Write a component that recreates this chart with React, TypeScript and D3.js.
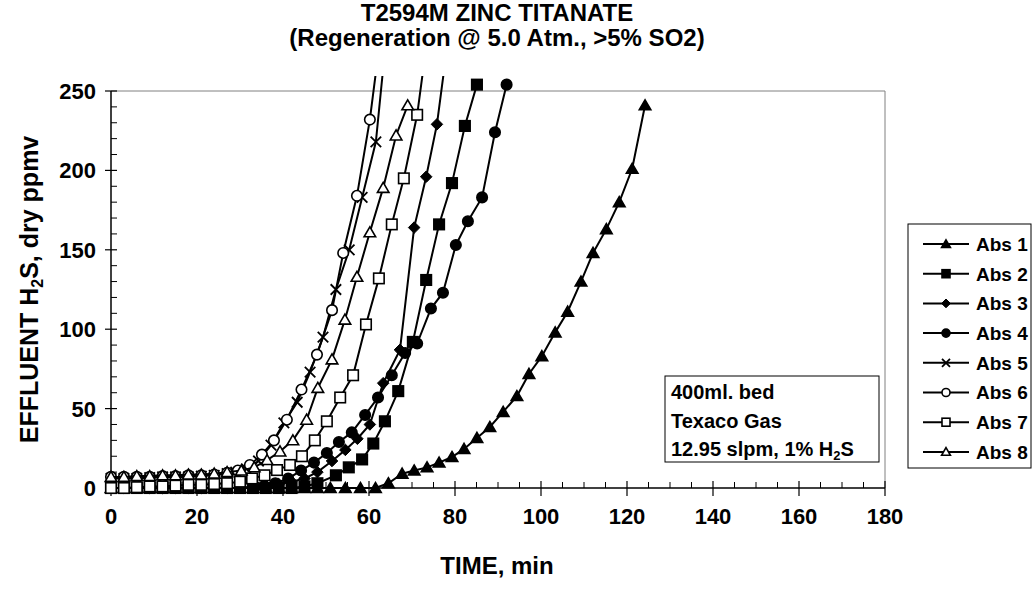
import React from "react";
import * as d3 from "d3";

const W = 1034;
const H = 590;
const FONT = "'Liberation Sans', Arial, sans-serif";

const xTicks = [0, 20, 40, 60, 80, 100, 120, 140, 160, 180];
const yTicks = [0, 50, 100, 150, 200, 250];
const seriesNames = ["Abs 1", "Abs 2", "Abs 3", "Abs 4", "Abs 5", "Abs 6", "Abs 7", "Abs 8"];
const markerTypes = ["triF", "sqF", "diaF", "cirF", "cross", "cirO", "sqO", "triO"];

const t1 = [0, 3, 6, 9, 12, 15, 18, 21, 24, 27, 30, 33, 36, 39, 42, 45, 48, 51, 54.5, 58, 61.5, 64.5, 67.7, 70.5, 73.5, 76.3, 79.3, 82.1, 85.1, 88.1, 91.2, 94.4, 97.2, 100.2, 103.3, 106.2, 109.3, 112.1, 115.2, 118.2, 121.2, 124.2];
const v1 = [0, 0, 0, 0, 0, 0, 0, 0, 0, 0, 0, 0, 0, 0, 0, 0, 0, 0, 0, 0, 0, 3, 9, 11, 13, 16, 19.5, 24.6, 31.5, 38.4, 47.9, 57.9, 71.8, 83, 98, 111, 130, 148, 163, 180, 201, 241];

const t2 = [0, 3, 6, 9, 12, 15, 18, 21, 24, 27, 30, 33, 36, 39, 42, 45, 48, 52.3, 55.3, 58.4, 61, 63.7, 66.8, 70.2, 73.3, 76.3, 79.3, 82.3, 85.1];
const v2 = [0, 0, 0, 0, 0, 0, 0, 0, 0, 0, 0, 0, 0, 0, 0, 1, 3, 8, 13, 18, 28, 42, 61, 92, 131, 166, 192, 228, 254];

const t3 = [0, 3, 6, 9, 12, 15, 18, 21, 24, 27, 30, 33, 36, 39, 42, 45, 48, 51.4, 54.5, 57.3, 60.2, 63.3, 67.2, 70.5, 73.3, 75.8, 79];
const v3 = [0, 0, 0, 0, 0, 0, 0, 0, 0, 0, 0, 1, 1.5, 2.5, 4, 6, 10, 17, 24, 31, 40, 66, 87, 164, 196, 229, 295];

const t4 = [0, 3, 6, 9, 12, 15, 18, 21, 24, 27, 30, 33, 35.5, 38.2, 41.2, 44.2, 47.2, 50.2, 53, 56, 59.1, 62.1, 65.3, 68.4, 71.2, 74.4, 77.2, 80.2, 83, 86.3, 89.3, 92];
const v4 = [0, 0, 0, 0, 0, 0, 0, 0, 0, 0, 0, 0, 1, 3, 6, 11, 16, 22, 29, 35, 46, 57, 71, 85, 91, 113, 123, 153, 168, 183, 224, 254];

const t5 = [0, 3, 6, 9, 12, 15, 18, 21, 24, 27, 29, 31.5, 34.3, 37.2, 40.2, 43.3, 46.3, 49.3, 52.3, 55.4, 58.4, 61.6, 64.6];
const v5 = [6, 6, 6, 6.5, 7, 7, 7, 7.5, 8, 9, 10, 12, 17, 27, 41, 54, 73, 95, 125, 150, 183, 218, 300];

const t6 = [0, 3, 6, 9, 12, 15, 18, 21, 24, 27, 29.5, 32.3, 35.1, 37.9, 40.9, 44.3, 47.9, 51.4, 54, 57.2, 60.2, 63.4];
const v6 = [7, 7, 7, 7, 7.5, 7.5, 8, 8, 8.5, 9.5, 11, 14.5, 21, 30, 43, 62, 84, 112, 148, 184, 232, 300];

const t7 = [0, 3, 6, 9, 12, 15, 18, 21, 24, 27, 30, 32.8, 35.7, 38.6, 41.6, 44.4, 47.4, 50.2, 53.3, 56.3, 59.3, 62.3, 65.3, 68.1, 71.2, 74.4];
const v7 = [0, 0, 0.5, 1, 1, 1.5, 2, 2, 2.5, 3, 4, 6, 8, 11.3, 14.5, 20, 30, 42, 57, 71, 103, 132, 166, 195, 235, 300];

const t8 = [0, 3, 6, 9, 12, 15, 18, 21, 24, 27, 30.3, 33.3, 36.3, 39.3, 42.3, 45.5, 48.1, 51.4, 54.4, 57.2, 60.2, 63.3, 66.3, 69];
const v8 = [7, 7, 7.5, 7.5, 8, 8, 8.5, 8.5, 9, 10, 11, 13, 17.6, 23, 30, 43, 63, 81, 106, 133, 161, 189, 222, 241];

const seriesT = [t1, t2, t3, t4, t5, t6, t7, t8];
const seriesV = [v1, v2, v3, v4, v5, v6, v7, v8];

const PL = 111, PR = 885, PT = 91, PB = 488;
const CLIP_TOP = 76;

function Marker({ type, cx, cy, s }: { type: string; cx: number; cy: number; s: number }) {
  const h = s / 2;
  const sw = 1.6;
  switch (type) {
    case "triF":
    case "triO": {
      const p = `M${cx},${cy - h * 1.05}L${cx + h * 1.1},${cy + h * 0.85}L${cx - h * 1.1},${cy + h * 0.85}Z`;
      return <path d={p} fill={type === "triF" ? "#000" : "#fff"} stroke="#000" strokeWidth={sw} />;
    }
    case "sqF":
    case "sqO":
      return <rect x={cx - h} y={cy - h} width={s} height={s} fill={type === "sqF" ? "#000" : "#fff"} stroke="#000" strokeWidth={sw} />;
    case "diaF": {
      const p = `M${cx},${cy - h * 1.1}L${cx + h * 1.1},${cy}L${cx},${cy + h * 1.1}L${cx - h * 1.1},${cy}Z`;
      return <path d={p} fill="#000" stroke="#000" strokeWidth={1} />;
    }
    case "cirF":
    case "cirO":
      return <circle cx={cx} cy={cy} r={h} fill={type === "cirF" ? "#000" : "#fff"} stroke="#000" strokeWidth={sw} />;
    case "cross":
      return (
        <path d={`M${cx - h},${cy - h}L${cx + h},${cy + h}M${cx - h},${cy + h}L${cx + h},${cy - h}`} stroke="#000" strokeWidth={1.8} fill="none" />
      );
  }
  return null;
}

export default function App() {
  const x = d3.scaleLinear().domain([0, 180]).range([PL, PR]);
  const y = d3.scaleLinear().domain([0, 250]).range([PB, PT]);
  const line = d3.line<[number, number]>().x((d) => x(d[0])).y((d) => y(d[1]));

  const xMinor = d3.range(0, 181, 5).filter((v) => v % 20 !== 0);
  const yMinor = d3.range(0, 251, 10).filter((v) => v % 50 !== 0);

  const legX = 908, legY = 224, legW = 123, legH = 244, legStep = 29.7;
  const textStyle = { fontFamily: FONT, fontWeight: 700 } as const;

  return (
    <svg width={W} height={H} style={{ position: "absolute", left: 0, top: 0, background: "#fff" }}>
      <defs>
        <clipPath id="dataClip">
          <rect x={0} y={CLIP_TOP} width={W} height={H - CLIP_TOP} />
        </clipPath>
      </defs>
      <rect width={W} height={H} fill="#fff" />
      {/* title */}
      <text x={497} y={21} textAnchor="middle" fontSize={24} {...textStyle}>T2594M ZINC TITANATE</text>
      <text x={497} y={46} textAnchor="middle" fontSize={24} {...textStyle}>(Regeneration @ 5.0 Atm., &gt;5% SO2)</text>

      {/* plot border (top/right gray) */}
      <line x1={PL} y1={PT} x2={PR} y2={PT} stroke="#808080" strokeWidth={1} />
      <line x1={PR} y1={PT} x2={PR} y2={PB} stroke="#808080" strokeWidth={1} />

      {/* axes */}
      <line x1={PL} y1={PT} x2={PL} y2={PB} stroke="#000" strokeWidth={1.5} />
      <line x1={PL} y1={PB} x2={PR} y2={PB} stroke="#000" strokeWidth={1.5} />
      {yTicks.map((v) => (
        <g key={"yt" + v}>
          <line x1={PL - 6} x2={PL + 6} y1={y(v)} y2={y(v)} stroke="#000" strokeWidth={1.2} />
          <text x={PL - 15} y={y(v)} dy="0.36em" textAnchor="end" fontSize={22} {...textStyle}>{v}</text>
        </g>
      ))}
      {yMinor.map((v) => (
        <line key={"ym" + v} x1={PL} x2={PL + 6} y1={y(v)} y2={y(v)} stroke="#000" strokeWidth={1} />
      ))}
      {xTicks.map((v) => (
        <g key={"xt" + v}>
          <line x1={x(v)} x2={x(v)} y1={PB - 7} y2={PB + 8} stroke="#000" strokeWidth={1.2} />
          <text x={x(v)} y={PB + 36} textAnchor="middle" fontSize={22} {...textStyle}>{v}</text>
        </g>
      ))}
      {xMinor.map((v) => (
        <line key={"xm" + v} x1={x(v)} x2={x(v)} y1={PB - 6} y2={PB} stroke="#000" strokeWidth={1} />
      ))}

      {/* axis titles */}
      <text x={497} y={574} textAnchor="middle" fontSize={24} {...textStyle}>TIME, min</text>
      <text transform={`translate(38,${(PT + PB) / 2}) rotate(-90)`} textAnchor="middle" fontSize={25} {...textStyle}>
        EFFLUENT H<tspan fontSize={16} dy="5">2</tspan><tspan dy="-5">S, dry ppmv</tspan>
      </text>

      {/* series */}
      <g clipPath="url(#dataClip)">
        {seriesT.map((ts, i) => {
          const pts = ts.map((t, j) => [t, seriesV[i][j]] as [number, number]);
          return (
            <g key={"s" + i}>
              <path d={line(pts) || ""} fill="none" stroke="#000" strokeWidth={2} />
              {pts.map((p, j) => (
                <Marker key={j} type={markerTypes[i]} cx={x(p[0])} cy={y(p[1])} s={10.5} />
              ))}
            </g>
          );
        })}
      </g>

      {/* annotation box */}
      <rect x={665} y={376} width={214} height={86} fill="#fff" stroke="#000" strokeWidth={1} />
      <text x={671} y={399} fontSize={20} {...textStyle}>400ml. bed</text>
      <text x={671} y={428} fontSize={20} {...textStyle}>Texaco Gas</text>
      <text x={671} y={456} fontSize={20} {...textStyle}>
        12.95 slpm, 1% H<tspan fontSize={13} dy="4">2</tspan><tspan dy="-4">S</tspan>
      </text>

      {/* legend */}
      <rect x={legX} y={legY} width={legW} height={legH} fill="#fff" stroke="#000" strokeWidth={1} />
      {seriesNames.map((n, i) => {
        const cy = legY + 20 + i * legStep;
        return (
          <g key={"l" + i}>
            <line x1={923} x2={969} y1={cy} y2={cy} stroke="#000" strokeWidth={2} />
            <Marker type={markerTypes[i]} cx={946} cy={cy} s={8} />
            <text x={976} y={cy} dy="0.36em" fontSize={19} {...textStyle}>{n}</text>
          </g>
        );
      })}
    </svg>
  );
}
